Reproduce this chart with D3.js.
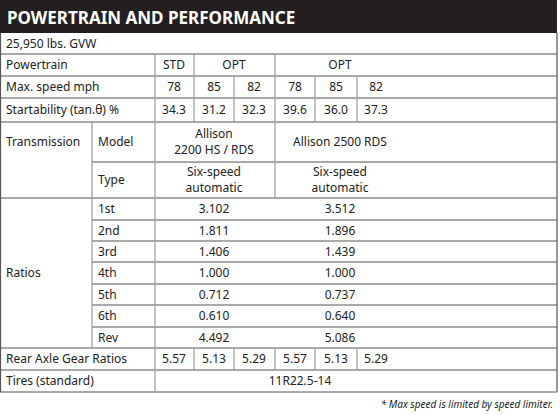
<!DOCTYPE html><html><head><meta charset="utf-8"><script src="https://cdn.jsdelivr.net/npm/d3@7"></script>
<style>body{margin:0;background:#fff}text{font-family:"Noto Sans",sans-serif;font-size:12px;fill:#222}</style></head><body>
<script>
const title="POWERTRAIN AND PERFORMANCE";
const gvw="25,950 lbs. GVW";
const maxSpeed=["78","85","82","78","85","82"];
const startability=["34.3","31.2","32.3","39.6","36.0","37.3"];
const models=["Allison\n2200 HS / RDS","Allison 2500 RDS"];
const types=["Six-speed\nautomatic","Six-speed\nautomatic"];
const gears=["1st","2nd","3rd","4th","5th","6th","Rev"];
const ratios2200=["3.102","1.811","1.406","1.000","0.712","0.610","4.492"];
const ratios2500=["3.512","1.896","1.439","1.000","0.737","0.640","5.086"];
const axle=["5.57","5.13","5.29","5.57","5.13","5.29"];
const tires="11R22.5-14";
const note="* Max speed is limited by speed limiter.";

const svg=d3.select("body").append("svg").attr("width",560).attr("height",415);
const cx=[174,214,254,295,336,376];
const rowB=[33,54,76,98,122,162,198,220,241,262,284,305,327,348,370,392];
const Y=i=>rowB[i];
svg.append("rect").attr("x",0).attr("y",0).attr("width",557).attr("height",33).attr("fill","#231f20");
svg.append("text").attr("x",7).attr("y",24).text(title).style("font-size","17px").style("font-weight","bold").style("fill","#fff");
const g=svg.append("g");
function hl(x1,x2,y,c="#555"){g.append("line").attr("x1",x1).attr("x2",x2).attr("y1",y).attr("y2",y).attr("stroke",c).attr("stroke-width",1.2);}
function vl(x,y1,y2,c="#999"){g.append("line").attr("x1",x).attr("x2",x).attr("y1",y1).attr("y2",y2).attr("stroke",c).attr("stroke-width",1.2);}
function t(x,y,s,anchor="middle"){const lines=s.split("\n");const el=svg.append("text").attr("x",x).attr("text-anchor",anchor);
 const y0=y-(lines.length-1)*8;lines.forEach((l,i)=>el.append("tspan").attr("x",x).attr("y",y0+i*16+4).text(l));}
[1,2,3,4,6,13,14,15].forEach(i=>hl(0,557,Y(i)));
hl(92,557,Y(5));
for(let i=7;i<13;i++)hl(92,557,Y(i));
vl(0.5,33,392,"#555");vl(557,33,392,"#555");
vl(155,Y(1),Y(2));vl(194,Y(1),Y(2));vl(275,Y(1),Y(2));
[2,3].forEach(r=>[155,194,234,275,315,357].forEach(x=>vl(x,Y(r),Y(r+1))));
vl(92,Y(4),Y(13));vl(155,Y(4),Y(13));vl(275,Y(4),Y(6));
[155,194,234,275,315,357].forEach(x=>vl(x,Y(13),Y(14)));
vl(155,Y(14),Y(15));
const mid=i=>(Y(i)+Y(i+1))/2;
t(6,mid(0),gvw,"start");
t(6,mid(1),"Powertrain","start");t(174,mid(1),"STD");t(234,mid(1),"OPT");t(340,mid(1),"OPT");
t(6,mid(2),"Max. speed mph","start");maxSpeed.forEach((v,i)=>t(cx[i],mid(2),v));
t(6,mid(3),"Startability (tan.θ) %","start");startability.forEach((v,i)=>t(cx[i],mid(3),v));
t(6,mid(4),"Transmission","start");t(98,mid(4),"Model","start");t(214,mid(4),models[0]);t(340,mid(4),models[1]);
t(98,mid(5),"Type","start");t(214,mid(5),types[0]);t(340,mid(5),types[1]);
gears.forEach((gname,i)=>{t(98,mid(6+i),gname,"start");t(214,mid(6+i),ratios2200[i]);t(340,mid(6+i),ratios2500[i]);});
t(6,(Y(6)+Y(13))/2,"Ratios","start");
t(6,mid(13),"Rear Axle Gear Ratios","start");axle.forEach((v,i)=>t(cx[i],mid(13),v));
t(6,mid(14),"Tires (standard)","start");t(300,mid(14),tires);
svg.append("text").attr("x",553).attr("y",408).attr("text-anchor","end").text(note).style("font-size","10px").style("font-style","italic");
</script></body></html>
